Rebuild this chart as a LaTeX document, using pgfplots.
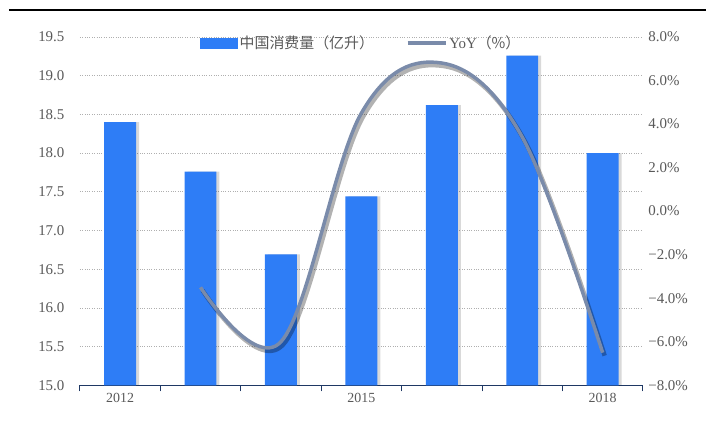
\documentclass[border=0pt]{standalone}
\usepackage{fontspec}
\setmainfont{Liberation Serif}
\newfontfamily\cjk{Noto Sans CJK SC}
\usepackage{pgfplots}
\pgfplotsset{compat=1.18}
\definecolor{barblue}{RGB}{46,125,246}
\definecolor{linegray}{RGB}{122,139,170}
\definecolor{ticklab}{RGB}{89,89,89}
\definecolor{axisnavy}{RGB}{31,56,100}
\definecolor{gridgray}{RGB}{175,175,175}
\begin{document}
\begin{tikzpicture}[x=1bp,y=1bp]
\path (0,0) rectangle (707,438);
\draw[line width=2.5bp] (9,428) -- (707,428);
\begin{axis}[
  at={(80bp,52bp)}, anchor=south west, scale only axis,
  width=564bp, height=349bp,
  xmin=-0.5, xmax=6.5, ymin=15, ymax=19.5,
  axis x line*=bottom, axis y line*=left,
  x axis line style={draw=axisnavy, line width=1.3bp, -},
  y axis line style={draw=none},
  xtick={-0.5,0.5,1.5,2.5,3.5,4.5,5.5,6.5}, xticklabels={},
  tick align=outside,
  major tick length=6bp,
  x tick style={draw=axisnavy, line width=1bp},
  extra x ticks={0,3,6}, extra x tick labels={2012,2015,2018},
  extra x tick style={major tick length=0pt, tick style={draw=none}},
  xticklabel style={font=\fontsize{14}{16}\selectfont, text=ticklab, yshift=-4bp},
  ytick={15,15.5,16,16.5,17,17.5,18,18.5,19,19.5},
  yticklabels={15.0,15.5,16.0,16.5,17.0,17.5,18.0,18.5,19.0,19.5},
  y tick style={draw=none},
  yticklabel style={font=\fontsize{15}{17}\selectfont, text=ticklab, xshift=-6bp},
  ymajorgrids, grid style={gridgray, dotted, line width=0.7bp},
  clip=false,
]
\addplot[ybar, bar width=32bp, bar shift=3bp, fill=black, opacity=0.15, draw=none]
  coordinates {(0,18.40)(1,17.76)(2,16.69)(3,17.44)(4,18.62)(5,19.26)(6,18.00)};
\addplot[ybar, bar width=32bp, bar shift=0pt, fill=barblue, draw=none]
  coordinates {(0,18.40)(1,17.76)(2,16.69)(3,17.44)(4,18.62)(5,19.26)(6,18.00)};
\end{axis}
\begin{axis}[
  at={(80bp,52bp)}, anchor=south west, scale only axis,
  width=564bp, height=349bp,
  xmin=-0.5, xmax=6.5, ymin=-8, ymax=8,
  hide x axis,
  axis y line*=right,
  y axis line style={draw=none},
  y tick style={draw=none},
  ytick={-8,-6,-4,-2,0,2,4,6,8},
  yticklabels={−8.0\%,−6.0\%,−4.0\%,−2.0\%,0.0\%,2.0\%,4.0\%,6.0\%,8.0\%},
  yticklabel style={font=\fontsize{15}{17}\selectfont, text=ticklab, xshift=2bp},
  legend columns=2,
  legend style={at={(0.5,1.015)}, anchor=north, draw=none, fill=none,
    font=\fontsize{15}{17}\selectfont, text=ticklab,
    /tikz/every even column/.append style={column sep=30bp}},
]
\addlegendimage{legend image code/.code={\fill[barblue] (0bp,-5bp) rectangle (37bp,5bp);}}
\addlegendentry{\cjk 中国消费量（亿升）}
\addplot[black, opacity=0.3, line width=4.5bp, smooth, tension=0.6, xshift=2bp, yshift=-3bp, forget plot]
  coordinates {(1,-3.5)(2,-6.0)(3,4.5)(4,6.8)(5,3.4)(6,-6.5)};
\addplot[linegray, line width=3.5bp, smooth, tension=0.6,
  legend image code/.code={\draw[linegray, line width=3.5bp] (0bp,0bp) -- (38bp,0bp);}]
  coordinates {(1,-3.5)(2,-6.0)(3,4.5)(4,6.8)(5,3.4)(6,-6.5)};
\addlegendentry{YoY{\cjk（\%）}}
\end{axis}
\end{tikzpicture}
\end{document}
